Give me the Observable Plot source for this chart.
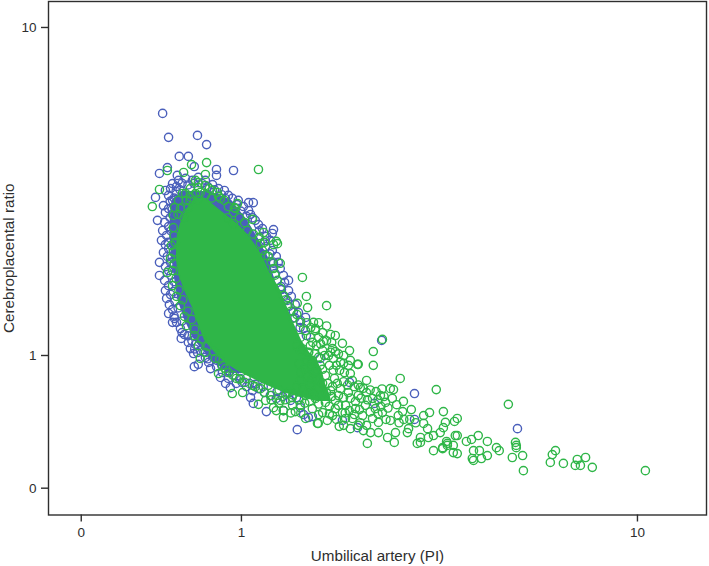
<!DOCTYPE html>
<html><head><meta charset="utf-8">
<script src="https://cdn.jsdelivr.net/npm/d3@7"></script>
<script src="https://cdn.jsdelivr.net/npm/@observablehq/plot@0.6"></script>
<style>html,body{margin:0;padding:0;background:#fff}svg{display:block}</style>
</head><body><div id="chart"></div>
<script>
// All readings are log10 of [PI, cerebroplacental ratio]
const blueLog = [[-.199,.738],[-.184,.665],[-.111,.671],[-.088,.643],[-.157,.607],[-.134,.607],[-.187,.573],[-.119,.576],[-.207,.555],[-.063,.567],[-.063,.549],[-.020,.564],[-.162,.549],[-.217,.482],[-.212,.412],[.018,.466],[.030,.466],[.081,.384],[.078,.372],[-.207,.284],[-.207,.244],[-.121,.006],[-.119,-.034],[.141,-.226],[.063,-.171],[.030,-.146],[.023,-.128],[-.028,-.098],[-.040,-.085],[-.053,-.067],[-.078,-.040],[-.109,-.027],[.162,.116],[.119,.229],[.106,.244],[.081,.281],[.101,.201],[.116,.168],[.131,.134],[.437,-.116],[.437,-.195],[.354,.046],[.273,-.082],[.199,-.009],[.169,-.189],[.157,-.180],[.179,-.186],[.255,-.198],[.293,-.220],[.106,-.168],[.149,-.159],[.336,-.146],[.697,-.223],
[-.174,.524],[-.159,.534],[-.141,.540],[-.124,.534],[-.109,.543],[-.192,.503],[-.179,.509],[-.164,.515],[-.184,.488],[-.174,.473],[-.197,.457],[-.184,.448],[-.192,.436],[-.174,.430],[-.194,.406],[-.184,.393],[-.199,.381],[-.189,.366],[-.202,.351],[-.192,.338],[-.184,.326],[-.197,.314],[-.187,.302],[-.179,.284],[-.192,.271],[-.184,.259],[-.194,.229],[-.184,.213],[-.192,.198],[-.179,.186],[-.189,.174],[-.182,.155],[-.174,.140],[-.184,.128],[-.169,.113],[-.164,.101],[-.174,.101],[-.154,.082],[-.144,.064],[-.152,.052],[-.134,.040],[-.129,.021],[-.116,.034],[-.111,.009],[-.104,.015],[-.091,-.006],[-.083,-.021],[-.073,-.003],[-.063,-.034],[-.048,-.052],[-.033,-.070],[-.013,-.085],[-.003,-.070],[.013,-.095],[.028,-.107],[.043,-.101],[.058,-.113],[.073,-.122],[.088,-.131],[.104,-.125],[.124,-.137],[.139,-.128],
[-.091,.534],[-.073,.521],[-.058,.509],[-.043,.503],[-.033,.488],[-.023,.479],[-.008,.473],[.005,.454],[.018,.442],[.023,.430],[.035,.412],[.043,.399],[.053,.387],[.063,.363],[.073,.351],[.061,.332],[.078,.320],[.088,.302],[.093,.284],[.098,.265],[.109,.223],[.119,.198],[.126,.180],[.136,.155],[.144,.131],[.149,.107],[.157,.082],[.164,.061],
[-.165,.500],[-.170,.480],[-.180,.470],[-.165,.462],[-.175,.445],[-.180,.420],[-.170,.405],[-.178,.380],[-.170,.360],[-.185,.345],[-.172,.320],[-.175,.300],[-.170,.275],[-.178,.245],[-.170,.225],[-.172,.195],[-.168,.165],[-.160,.145],[-.170,.120],[-.150,.105],[-.150,.070],[-.135,.060],[-.125,.045],[-.118,.020],[-.095,.010],[-.085,-.010],[-.062,-.015],[-.050,-.030],[-.030,-.050],[-.018,-.060],[.002,-.082],[.020,-.085],[.035,-.088],[.055,-.095],[.090,-.110],[.115,-.115],
[-.150,.525],[-.135,.520],[-.120,.525],[-.100,.525],[-.085,.515],[-.155,.505],[-.068,.505],[-.050,.490],[-.040,.478],[-.012,.460],[-.002,.440],[.012,.425],[.028,.420],[.045,.380],[.060,.350],[.072,.310],[.080,.285],[.085,.250],[.100,.210],[.108,.180],[.120,.150],[.135,.115],[.148,.085]];

const greenLog = [[.043,.567],[-.088,.588],[-.126,.582],[-.091,.552],[-.187,.564],[-.146,.558],[-.207,.506],[-.225,.454],[-.010,.463],[-.018,.451],[.028,.415],[.056,.375],[.088,.348],[.154,.238],[.164,.180],[.167,.146],[.098,.281],[.081,.338],[.091,.341],[.141,.159],[-.187,.253],[-.023,-.116],[-.058,-.055],[-.104,-.009],[.043,-.149],[.081,-.159],[.106,-.189],[.106,-.168],[.061,-.137],[.003,-.113],[.136,-.171],[.192,-.207],[.182,.101],[.187,.082],[.174,.055],[.149,.055],[.215,.152],[.187,.076],[.225,.064],[.237,.061],[.255,.037],[.207,.043],[.273,.015],[.230,.021],[.237,.012],[.258,0],[.258,-.024],[.232,-.009],[.333,.012],[.356,.049],[.293,-.027],[.295,-.027],[.333,-.030],[.401,-.070],[.492,-.104],[.316,-.076],[.275,-.055],[.376,-.101],[.384,-.104],[.300,-.098],[.351,-.122],[.409,-.140],[.429,-.165],[.407,-.171],[.510,-.171],[.475,-.174],[.460,-.183],[.460,-.207],[.545,-.192],[.538,-.201],[.515,-.204],[.510,-.220],[.470,-.223],[.502,-.235],[.540,-.244],[.598,-.244],[.581,-.256],[.568,-.262],[.485,-.244],[.472,-.250],[.452,-.250],[.452,-.265],[.444,-.268],[.318,-.268],[.386,-.265],[.389,-.235],[.369,-.250],[.422,-.223],[.419,-.235],[.346,-.235],[.326,-.235],[.308,-.229],[.258,-.213],[.247,-.216],[.217,-.198],[.194,-.207],[.520,-.268],[.535,-.296],[.545,-.299],[.485,-.290],[.508,-.284],[.586,-.290],[.601,-.290],[.583,-.314],
[.674,-.149],[.621,-.262],[.545,-.244],[.535,-.274],[.518,-.262],[.520,-.274],[.508,-.281],[.644,-.281],[.651,-.290],[.621,-.305],[.606,-.314],[.586,-.320],[.684,-.311],[.710,-.305],[.692,-.265],[.694,-.274],[.694,-.281],[.712,-.351],[.780,-.326],[.785,-.302],[.793,-.290],[.813,-.329],[.843,-.335],[.848,-.317],[.856,-.335],[.869,-.311],[.886,-.341],[1.020,-.351],
[-.109,.527],[-.091,.518],[-.129,.509],[-.073,.503],[-.141,.494],[-.116,.494],[-.159,.473],[-.139,.473],[-.104,.497],[-.058,.485],[-.043,.473],[-.154,.448],[-.033,.454],[-.020,.436],[-.169,.451],[-.172,.427],[-.134,.451],[-.167,.345],[-.149,.494],[-.129,.482],[-.116,.534],[-.109,.512],[-.081,.509],[-.061,.497],[-.053,.479],[-.015,.448],[-.020,.402],[.015,.381],[.058,.345],[.048,.341],[-.177,.335],[-.179,.296],[-.174,.259],[-.174,.213],[-.164,.180],[-.154,.152],[-.144,.119],[-.139,.091],[-.119,.061],[-.109,.030],[-.091,.009],[-.066,-.009],[-.048,-.030],[-.033,-.052],[-.013,-.070],[.008,-.082],[.028,-.091],[.048,-.101],[.068,-.091],[.053,.320],[.068,.302],[.081,.265],[.091,.229],[.106,.183],[.116,.152],[.129,.113],[.149,.101],[.162,.076],[.174,.030],
[.149,.015],[.169,.009],[.189,.030],[.205,.015],[.179,-.015],[.199,-.030],[.220,0],[.240,-.030],[.159,-.040],[.184,-.052],[.212,-.061],[.235,-.070],[.260,-.052],[.280,-.076],[.149,-.076],[.174,-.088],[.194,-.101],[.225,-.107],[.250,-.101],[.270,-.113],[.295,-.122],[.316,-.113],[.331,-.131],[.162,-.122],[.187,-.131],[.212,-.143],[.237,-.137],[.263,-.152],[.288,-.162],[.313,-.152],[.338,-.162],[.364,-.143],[.381,-.131],[.149,-.152],[.179,-.162],[.205,-.174],[.230,-.183],[.255,-.174],[.280,-.192],[.306,-.183],[.331,-.192],[.356,-.174],[.376,-.198],[.396,-.183],[.295,-.213],[.275,-.223],[.346,-.204],[.316,-.213],[.263,-.192],[.098,-.137],[.119,-.113],[.129,-.152],[.088,-.168],[.162,-.192],[.237,-.162],
[-.172,.390],[-.170,.365],[-.172,.315],[-.170,.280],[-.165,.235],[-.158,.200],[-.148,.170],[-.135,.135],[-.125,.110],[-.118,.080],[-.100,.050],[-.085,.028],[-.070,.012],[-.055,-.012],[-.040,-.040],[-.022,-.060],[-.005,-.072],[.012,-.070],[.035,-.095],[.058,-.112],[.075,-.122],[.095,-.105],[.112,-.118],[.128,-.128],
[-.130,.470],[-.110,.475],[-.090,.490],[-.075,.480],[-.160,.430],[-.145,.420],[-.035,.420],[-.005,.420],[.008,.405],[.030,.370],[.045,.360],[.060,.305],[.075,.285],[.085,.245],[.098,.205],[.112,.170],[.125,.135],[.140,.125],
[.165,.100],[.175,.085],[.195,.100],[.205,.070],[.195,.055],[.215,.090],[.180,.040],[.200,.035],[.215,.045],[.228,.040],[.170,.010],[.155,.020],[.140,.030],[.185,.005],[.195,-.005],[.210,.000],[.225,.010],[.245,.005],[.250,-.020],[.165,-.018],[.175,-.030],[.190,-.045],[.205,-.042],[.222,-.030],[.232,-.045],[.248,-.045],[.270,-.030],[.275,-.015],[.145,-.025],[.150,-.050],[.165,-.062],[.178,-.072],[.190,-.075],[.205,-.085],[.218,-.085],[.230,-.095],[.242,-.085],[.258,-.080],[.268,-.090],[.285,-.095],[.295,-.090],[.308,-.100],[.325,-.105],[.340,-.110],[.355,-.102],[.140,-.095],[.155,-.100],[.170,-.110],[.182,-.115],[.200,-.120],[.215,-.115],[.228,-.125],[.245,-.122],[.258,-.128],[.275,-.130],[.288,-.140],[.302,-.130],[.318,-.135],[.345,-.135],[.360,-.125],[.130,-.120],[.145,-.135],[.160,-.145],[.172,-.140],[.195,-.148],[.222,-.155],[.245,-.152],[.272,-.168],[.298,-.165],[.325,-.172],[.352,-.155],[.370,-.160],[.392,-.150],[.410,-.195],[.398,-.205],[.425,-.195],[.440,-.205],[.365,-.195],[.345,-.178],[.285,-.180],[.262,-.175],[.240,-.195],[.222,-.178],[.150,-.175],[.195,-.180],[.125,-.175],[.095,-.145],[.075,-.135],[.110,-.135],[.300,-.205]];

// Dense, overplotted part of each cloud: [log ratio, log PI left edge, log PI right edge]
const blueDense = [[.500,-.150,-.080],[.473,-.175,-.025],[.412,-.180,.015],[.351,-.180,.045],[.290,-.175,.070],[.229,-.168,.085],[.168,-.160,.103],[.107,-.143,.121],[.046,-.118,.141],[-.015,-.075,.141],[-.055,-.030,.116]];
const greenDense = [[.479,-.116,-.091],[.442,-.141,-.053],[.402,-.154,-.010],[.366,-.162,.018],[.329,-.164,.040],[.290,-.164,.058],[.250,-.159,.073],[.198,-.144,.099],[.146,-.124,.116],[.101,-.111,.131],[.046,-.093,.152],[.009,-.068,.172],[-.024,-.040,.195],[-.052,-.003,.205],[-.085,.053,.212],[-.115,.111,.222],[-.140,.190,.228]];

const tickVals = [0.394, 1, 10];
const tickText = ["0", "1", "10"];
const BLUE = "#4a5fbb", GREEN = "#2fb648", INK = "#2e2e2e";

const toPts = a => a.map(([x, y]) => ({x: 10 ** x, y: 10 ** y}));
const toBand = a => a.map(([y, l, r]) => ({y: 10 ** y, l: 10 ** l, r: 10 ** r}));
const fmt = d => tickText[tickVals.indexOf(d)];

const ring = {x: "x", y: "y", r: 4.1, strokeWidth: 1.4, fill: "none"};

const chart = Plot.plot({
  width: 709, height: 566,
  marginLeft: 48, marginRight: 3, marginTop: 1, marginBottom: 51.5,
  style: {fontFamily: "Liberation Sans, Arial, sans-serif", background: "#fff", color: INK},
  x: {type: "log", domain: [0.3257, 14.94]},
  y: {type: "log", domain: [0.3264, 12.0]},
  marks: [
    Plot.areaX(toBand(blueDense), {y: "y", x1: "l", x2: "r", fill: BLUE}),
    Plot.dot(toPts(blueLog), {...ring, stroke: BLUE}),
    Plot.areaX(toBand(greenDense), {y: "y", x1: "l", x2: "r", fill: GREEN}),
    Plot.dot(toPts(greenLog), {...ring, stroke: GREEN}),
    Plot.frame({stroke: INK, strokeWidth: 1.4}),
    Plot.axisX({ticks: tickVals, tickFormat: fmt, tickSize: 7, tickPadding: 5, strokeWidth: 1.4, fontSize: 13,
      label: "Umbilical artery (PI)", labelAnchor: "center", labelArrow: "none", labelOffset: 46}),
    Plot.axisY({ticks: tickVals, tickFormat: fmt, tickSize: 7, tickPadding: 5, strokeWidth: 1.4, fontSize: 13,
      label: "Cerebroplacental ratio", labelAnchor: "center", labelArrow: "none", labelOffset: 45})
  ]
});
chart.querySelectorAll("text").forEach(t => {
  if (/artery|ratio/.test(t.textContent)) t.style.fontSize = "15.2px";
  else if (/^(0|1|10)$/.test(t.textContent.trim())) t.style.fontSize = "13.5px";
});
document.getElementById("chart").append(chart);
</script></body></html>
